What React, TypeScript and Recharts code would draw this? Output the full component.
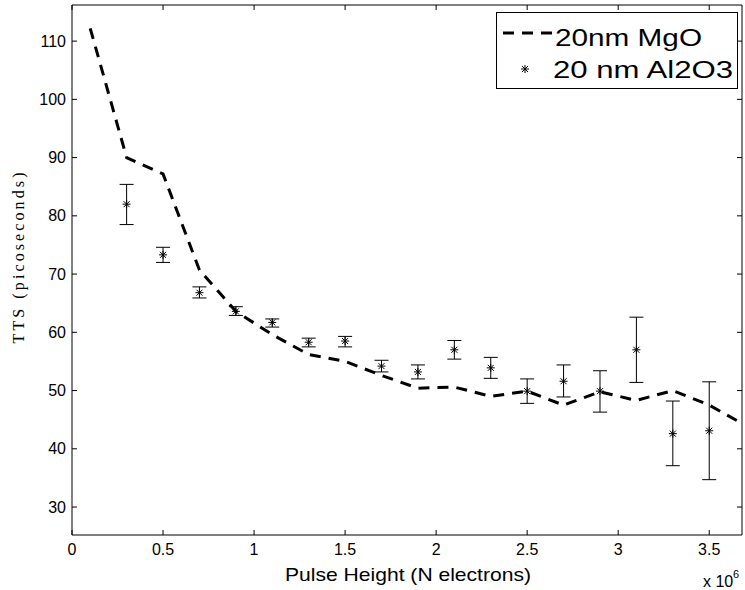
import React from "react";
import {
  ComposedChart,
  Line,
  Scatter,
  ErrorBar,
  XAxis,
  YAxis,
  Legend,
} from "recharts";

// MgO curve (pulse height in units of 1e6 electrons)
const mgoPulse = [0.1, 0.3, 0.5, 0.7, 0.9, 1.1, 1.3, 1.5, 1.7, 1.9, 2.1, 2.3, 2.5, 2.7, 2.9, 3.1, 3.3, 3.5, 3.7];
const mgoTTS = [112.2, 90.0, 87.2, 70.7, 63.6, 59.6, 56.2, 55.0, 52.6, 50.4, 50.6, 49.0, 49.9, 47.5, 49.8, 48.3, 50.0, 47.5, 44.0];

// Al2O3 measurements with error bar ends
const alPulse = [0.3, 0.5, 0.7, 0.9, 1.1, 1.3, 1.5, 1.7, 1.9, 2.1, 2.3, 2.5, 2.7, 2.9, 3.1, 3.3, 3.5];
const alTTS = [82.0, 73.3, 66.8, 63.6, 61.7, 58.3, 58.5, 54.2, 53.2, 57.0, 53.9, 49.9, 51.6, 49.9, 57.0, 42.6, 43.1];
const alHigh = [85.4, 74.6, 67.8, 64.4, 62.3, 59.0, 59.3, 55.2, 54.4, 58.6, 55.7, 52.0, 54.4, 53.4, 62.6, 48.2, 51.5];
const alLow = [78.5, 72.0, 65.9, 62.9, 60.9, 57.5, 57.5, 53.2, 52.0, 55.4, 52.1, 47.8, 48.9, 46.3, 51.4, 37.1, 34.7];

const xTicks = [0, 0.5, 1, 1.5, 2, 2.5, 3, 3.5];
const yTicks = [30, 40, 50, 60, 70, 80, 90, 100, 110];

const mgoData = mgoPulse.map((x, i) => ({ x, y: mgoTTS[i] }));
const alData = alPulse.map((x, i) => ({
  x,
  y: alTTS[i],
  err: [alTTS[i] - alLow[i], alHigh[i] - alTTS[i]],
}));

const W = 745;
const H = 590;
const PL = 72;
const PR = 742;
const PT = 5;
const PB = 535;
const TICK = 5;
const SANS = "'Liberation Sans', Arial, sans-serif";
const SERIF = "'Liberation Serif', 'Times New Roman', serif";

const Star = (props: any) => {
  const { cx, cy } = props;
  if (cx == null || cy == null) return null;
  const r = 4;
  const d = 3;
  return (
    <g stroke="#000" strokeWidth={1}>
      <line x1={cx - r} y1={cy} x2={cx + r} y2={cy} />
      <line x1={cx} y1={cy - r} x2={cx} y2={cy + r} />
      <line x1={cx - d} y1={cy - d} x2={cx + d} y2={cy + d} />
      <line x1={cx - d} y1={cy + d} x2={cx + d} y2={cy - d} />
    </g>
  );
};

const LeftTick = (props: any) => {
  const { y, payload } = props;
  return (
    <g>
      <line x1={PL} y1={y} x2={PL + TICK} y2={y} stroke="#000" />
      <text x={PL - 6} y={y + 5.5} textAnchor="end" fontFamily={SANS} fontSize={16} fill="#000">
        {payload.value}
      </text>
    </g>
  );
};

const RightTick = (props: any) => {
  const { y } = props;
  return <line x1={PR} y1={y} x2={PR - TICK} y2={y} stroke="#000" />;
};

const BottomTick = (props: any) => {
  const { x, payload } = props;
  return (
    <g>
      <line x1={x} y1={PB} x2={x} y2={PB - TICK} stroke="#000" />
      <text x={x} y={555} textAnchor="middle" fontFamily={SANS} fontSize={16} fill="#000">
        {payload.value}
      </text>
    </g>
  );
};

const TopTick = (props: any) => {
  const { x } = props;
  return <line x1={x} y1={PT} x2={x} y2={PT + TICK} stroke="#000" />;
};

const renderLegend = () => (
  <svg width={242} height={77} style={{ display: "block" }}>
    <rect x={0.5} y={0.5} width={241} height={76} fill="#fff" stroke="#000" />
    <line x1={7} y1={21} x2={57} y2={21} stroke="#000" strokeWidth={3} strokeDasharray="11 8" />
    <text x={59} y={34} fontFamily={SANS} fontSize={23} textLength={147} lengthAdjust="spacingAndGlyphs" fill="#000">
      20nm MgO
    </text>
    <Star cx={29} cy={57} />
    <text x={57} y={66} fontFamily={SANS} fontSize={23} textLength={180} lengthAdjust="spacingAndGlyphs" fill="#000">
      20 nm Al2O3
    </text>
  </svg>
);

export default function App() {
  return (
    <div style={{ position: "absolute", left: 0, top: 0, width: W, height: H, background: "#fff" }}>
      <ComposedChart
        width={W}
        height={H}
        margin={{ top: PT - 1, left: PL - 1, right: W - PR - 1, bottom: H - PB - 1 }}
      >
        <XAxis
          xAxisId="bottom"
          dataKey="x"
          type="number"
          domain={[0, 3.68]}
          allowDataOverflow
          ticks={xTicks}
          interval={0}
          height={1}
          tickLine={false}
          axisLine={{ stroke: "#000" }}
          tick={<BottomTick />}
        />
        <XAxis
          xAxisId="top"
          orientation="top"
          dataKey="x"
          type="number"
          domain={[0, 3.68]}
          allowDataOverflow
          ticks={xTicks}
          interval={0}
          height={1}
          tickLine={false}
          axisLine={{ stroke: "#000" }}
          tick={<TopTick />}
        />
        <YAxis
          yAxisId="left"
          type="number"
          domain={[25.2, 116.2]}
          allowDataOverflow
          ticks={yTicks}
          interval={0}
          width={1}
          tickLine={false}
          axisLine={{ stroke: "#000" }}
          tick={<LeftTick />}
        />
        <YAxis
          yAxisId="right"
          orientation="right"
          type="number"
          domain={[25.2, 116.2]}
          allowDataOverflow
          ticks={yTicks}
          interval={0}
          width={1}
          tickLine={false}
          axisLine={{ stroke: "#000" }}
          tick={<RightTick />}
        />
        <Line
          xAxisId="bottom"
          yAxisId="left"
          data={mgoData}
          dataKey="y"
          type="linear"
          stroke="#000"
          strokeWidth={3}
          strokeDasharray="11 8"
          dot={false}
          activeDot={false}
          isAnimationActive={false}
        />
        <Scatter
          xAxisId="bottom"
          yAxisId="left"
          data={alData}
          dataKey="y"
          shape={<Star />}
          isAnimationActive={false}
        >
          <ErrorBar dataKey="err" direction="y" width={7} stroke="#000" strokeWidth={1} />
        </Scatter>
        <Legend
          layout="vertical"
          align="center"
          verticalAlign="middle"
          content={renderLegend}
          wrapperStyle={{ position: "absolute", left: 496, top: 12, width: 242, height: 77 }}
        />
      </ComposedChart>
      <svg
        width={W}
        height={H}
        style={{ position: "absolute", left: 0, top: 0, pointerEvents: "none" }}
      >
        <text
          x={24}
          y={258}
          transform="rotate(-90 24 258)"
          textAnchor="middle"
          fontFamily={SERIF}
          fontSize={16}
          textLength={171}
          lengthAdjust="spacing"
          fill="#000"
        >
          TTS (picoseconds)
        </text>
        <text
          x={408}
          y={581}
          textAnchor="middle"
          fontFamily={SANS}
          fontSize={19}
          textLength={246}
          lengthAdjust="spacingAndGlyphs"
          fill="#000"
        >
          Pulse Height (N electrons)
        </text>
        <text x={703} y={587} fontFamily={SANS} fontSize={16} fill="#000">
          x 10
        </text>
        <text x={733} y={578} fontFamily={SANS} fontSize={11} fill="#000">
          6
        </text>
      </svg>
    </div>
  );
}
